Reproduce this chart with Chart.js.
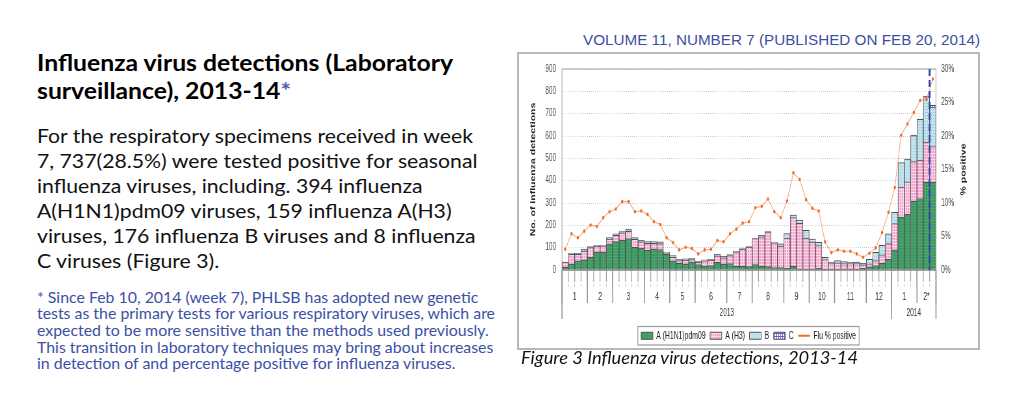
<!DOCTYPE html>
<html>
<head>
<meta charset="utf-8">
<title>Influenza virus detections, 2013-14</title>
<script src="https://cdn.jsdelivr.net/npm/chart.js@4.4.1/dist/chart.umd.min.js"></script>
<style>
  html, body { margin: 0; padding: 0; background: #fff; }
  body { position: relative; width: 1027px; height: 406px; overflow: hidden; font-family: Lato, "Open Sans", sans-serif; }
  .txt { position: absolute; white-space: nowrap; transform-origin: 0 0; }
  #heading { left: 37px; top: 49px; font-size: 23px; line-height: 27.6px; font-weight: bold; color: #000; }
  #heading .star { color: #4a5cb4; }
  #summary { left: 37px; top: 123px; font-size: 19.5px; line-height: 25px; color: #111; }
  #note { left: 37px; top: 288.5px; font-size: 15px; line-height: 16.67px; color: #3c50a5; }
  #volume { left: 583px; top: 32px; font-family: "Liberation Sans", Arial, sans-serif; font-size: 14px; line-height: 16px; color: #3d4f9f; }
  #caption { left: 521px; top: 346px; font-size: 18px; line-height: 22px; font-style: italic; color: #111; }
  #frame { position: absolute; left: 517px; top: 52px; width: 459px; height: 294px; border: 2px solid #b8b8b8; }
  #chartBox { position: absolute; left: 0; top: 0; height: 294px; transform-origin: 0 0; }
</style>
</head>
<body>
<div id="heading" class="txt fit" data-w="416" data-line="0"><span>Influenza virus detections (Laboratory</span><br><span>surveillance), 2013-14<span class="star">*</span></span></div>
<div id="summary" class="txt fit" data-w="436" data-line="0"><span>For the respiratory specimens received in week</span><br><span>7, 737(28.5%) were tested positive for seasonal</span><br><span>influenza viruses, including. 394 influenza</span><br><span>A(H1N1)pdm09 viruses, 159 influenza A(H3)</span><br><span>viruses, 176 influenza B viruses and 8 influenza</span><br><span>C viruses (Figure 3).</span></div>
<div id="note" class="txt fit" data-w="458" data-line="1"><span>* Since Feb 10, 2014 (week 7), PHLSB has adopted new genetic</span><br><span>tests as the primary tests for various respiratory viruses, which are</span><br><span>expected to be more sensitive than the methods used previously.</span><br><span>This transition in laboratory techniques may bring about increases</span><br><span>in detection of and percentage positive for influenza viruses.</span></div>
<div id="volume" class="txt fit" data-w="397" data-line="0"><span>VOLUME 11, NUMBER 7 (PUBLISHED ON FEB 20, 2014)</span></div>
<div id="frame"><div id="chartBox"><canvas id="fluChart"></canvas></div></div>
<div id="caption" class="txt fit" data-w="337" data-line="0"><span>Figure 3 Influenza virus detections, 2013-14</span></div>

<script>
// axis categories
const yearLabels = ['2013', '2014'];
const monthsPerYear = [12, 2];
const monthLabels = ['1', '2', '3', '4', '5', '6', '7', '8', '9', '10', '11', '12', '1', '2*'];
const weeksPerMonth = [4, 4, 5, 4, 4, 5, 4, 5, 4, 4, 5, 4, 4, 3];

// weekly detections
const h1n1 = [12, 26, 40, 45, 57, 80, 80, 117, 127, 133,
              141, 101, 98, 88, 94, 91, 70, 41, 30, 26,
              37, 24, 19, 20, 34, 26, 29, 18, 16, 15,
              24, 16, 15, 11, 11, 8, 16, 4, 2, 1,
              7, 1, 1, 2, 3, 4, 3, 7, 14, 20,
              30, 48, 90, 237, 250, 307, 320, 392, 394];
const h3 = [24, 44, 30, 40, 43, 27, 28, 21, 28, 33,
            32, 36, 28, 31, 25, 27, 7, 16, 12, 18,
            10, 11, 22, 24, 30, 29, 36, 63, 78, 88,
            117, 133, 156, 111, 96, 135, 219, 205, 141, 124,
            102, 46, 28, 30, 26, 25, 26, 16, 14, 22,
            38, 70, 118, 134, 145, 178, 172, 181, 159];
const fluB = [0, 6, 5, 8, 5, 3, 2, 7, 7, 6,
              8, 8, 7, 8, 8, 8, 2, 8, 6, 6,
              5, 4, 4, 4, 6, 6, 4, 3, 2, 2,
              2, 6, 3, 3, 10, 20, 11, 15, 35, 14,
              15, 10, 6, 10, 9, 6, 5, 7, 20, 37,
              42, 44, 50, 110, 102, 117, 183, 203, 176];
const fluC = [0, 0, 0, 0, 0, 0, 0, 0, 0, 0,
              1, 0, 0, 0, 0, 0, 1, 0, 0, 0,
              0, 0, 0, 0, 0, 0, 0, 0, 0, 0,
              0, 0, 0, 0, 0, 0, 0, 0, 0, 0,
              0, 0, 0, 0, 0, 0, 0, 0, 0, 0,
              0, 0, 0, 0, 0, 2, 1, 2, 8];
// percentage positive
const fluPct = [3.1, 5.4, 4.8, 5.8, 6.7, 6.5, 7.8, 8.7, 9.1, 10.2,
                10.2, 8.7, 8.8, 8.3, 7.2, 6.8, 4.8, 4.1, 3.0, 3.4,
                3.2, 2.4, 3.0, 3.1, 4.4, 4.2, 5.4, 6.1, 7.0, 7.2,
                9.3, 9.5, 10.6, 8.7, 7.8, 10.3, 14.5, 13.5, 10.5, 9.2,
                8.8, 4.2, 2.6, 3.0, 2.8, 2.8, 2.4, 1.9, 2.5, 3.3,
                5.6, 8.6, 12.3, 20.1, 21.8, 23.5, 25.3, 25.5, 28.5];

const countTicks = [0, 100, 200, 300, 400, 500, 600, 700, 800, 900];
const pctTicks = [0, 5, 10, 15, 20, 25, 30];
const newTestsWeek = '2014-W7';

// the original graphic is squeezed sideways, so draw wide and compress
const SQUEEZE = 0.65;
const CW = 459 / SQUEEZE;
const PLOT_LEFT = 43 / SQUEEZE;
const RIGHT_W = 42 / SQUEEZE;
const PLOT_BOTTOM = 216;
const PAD_BOTTOM = -3;
const AXIS_FONT = '"Liberation Sans", Arial, sans-serif';

// fit the text blocks to the widths of the original lines
document.querySelectorAll('.fit').forEach(function(el) {
	var spans = el.querySelectorAll(':scope > span');
	var ref = spans[+el.dataset.line || 0];
	var w = ref.getBoundingClientRect().width;
	el.style.transform = 'scaleX(' + (+el.dataset.w / w) + ')';
});

// week categories and the month each week falls in
const weekLabels = [];
const monthStart = [];
const yearStart = [];
let mi = 0;
monthsPerYear.forEach(function(nMonths, y) {
	yearStart.push(weekLabels.length);
	let wk = 1;
	for (let k = 0; k < nMonths; k++, mi++) {
		monthStart.push(weekLabels.length);
		for (let j = 0; j < weeksPerMonth[mi]; j++) {
			weekLabels.push(yearLabels[y] + '-W' + (wk++));
		}
	}
});
monthStart.push(weekLabels.length);
yearStart.push(weekLabels.length);

function makePattern(base, marks, markColor) {
	var c = document.createElement('canvas');
	c.width = 3; c.height = 3;
	var g = c.getContext('2d');
	g.fillStyle = base;
	g.fillRect(0, 0, 3, 3);
	g.fillStyle = markColor;
	marks.forEach(function(r) { g.fillRect(r[0], r[1], r[2], r[3]); });
	return g.createPattern(c, 'repeat');
}

var patGreen = makePattern('#3f9b64', [[1, 1, 1, 1]], '#66b687');
var patPink = makePattern('#f49ccb', [[0, 0, 3, 1], [0, 0, 1, 3]], '#fcd6e9');
var patBlue = makePattern('#c3e4ef', [[1, 1, 1, 1]], '#8ec2d6');
var patC = makePattern('#ffffff', [[0, 0, 3, 1], [0, 0, 1, 3]], '#6060c8');

var box = document.getElementById('chartBox');
box.style.width = CW + 'px';
box.style.transform = 'scaleX(' + SQUEEZE + ')';

// edge of week i (left side), i may equal the number of weeks
function weekEdge(xs, i) {
	var step = xs.getPixelForValue(1) - xs.getPixelForValue(0);
	if (i < weekLabels.length) return xs.getPixelForValue(i) - step / 2;
	return xs.getPixelForValue(weekLabels.length - 1) + step / 2;
}

var plotFrame = {
	id: 'plotFrame',
	beforeDatasetsDraw: function(chart) {
		var ctx = chart.ctx, a = chart.chartArea;
		ctx.save();
		ctx.strokeStyle = '#b0b0b0';
		ctx.lineWidth = 1.2;
		ctx.strokeRect(a.left, a.top, a.right - a.left, a.bottom - a.top);
		ctx.restore();
	},
	afterDatasetsDraw: function(chart) {
		var ctx = chart.ctx, a = chart.chartArea, xs = chart.scales.x;
		ctx.save();
		ctx.strokeStyle = '#7a7a7a';
		ctx.lineWidth = 1;
		ctx.beginPath();
		ctx.moveTo(a.left, a.bottom);
		ctx.lineTo(a.right, a.bottom);
		ctx.stroke();
		// method change marker
		var px = weekEdge(xs, weekLabels.indexOf(newTestsWeek));
		ctx.strokeStyle = '#3346b4';
		ctx.lineWidth = 3;
		ctx.setLineDash([7, 4]);
		ctx.beginPath();
		ctx.moveTo(px, a.top);
		ctx.lineTo(px, a.bottom);
		ctx.stroke();
		ctx.restore();
	}
};

var axisDecor = {
	id: 'axisDecor',
	afterDraw: function(chart) {
		var ctx = chart.ctx, a = chart.chartArea, xs = chart.scales.x, y2 = chart.scales.y2;
		var b = a.bottom;
		ctx.save();
		// week ticks
		for (var i = 1; i < weekLabels.length; i++) {
			var px = weekEdge(xs, i);
			ctx.strokeStyle = '#a0a0a0';
			ctx.lineWidth = 1.2;
			ctx.beginPath(); ctx.moveTo(px, b); ctx.lineTo(px, b + 12); ctx.stroke();
			ctx.strokeStyle = '#cfcfcf';
			ctx.beginPath(); ctx.moveTo(px, b + 14); ctx.lineTo(px, b + 17); ctx.stroke();
		}
		// month separators and labels
		ctx.strokeStyle = '#8c8c8c';
		ctx.lineWidth = 1.5;
		monthStart.forEach(function(w) {
			var px = weekEdge(xs, w);
			ctx.beginPath(); ctx.moveTo(px, b); ctx.lineTo(px, b + 33); ctx.stroke();
		});
		ctx.fillStyle = '#333';
		ctx.font = '10.5px ' + AXIS_FONT;
		ctx.textAlign = 'center';
		ctx.textBaseline = 'middle';
		monthLabels.forEach(function(lbl, m) {
			var cx = (weekEdge(xs, monthStart[m]) + weekEdge(xs, monthStart[m + 1])) / 2;
			ctx.fillText(lbl, cx, b + 27);
		});
		// year separators and labels
		yearStart.forEach(function(w) {
			var px = weekEdge(xs, w);
			ctx.beginPath(); ctx.moveTo(px, b); ctx.lineTo(px, b + 49); ctx.stroke();
		});
		ctx.font = '10px ' + AXIS_FONT;
		yearLabels.forEach(function(lbl, y) {
			var cx = (weekEdge(xs, yearStart[y]) + weekEdge(xs, yearStart[y + 1])) / 2;
			ctx.fillText(lbl, cx, b + 43);
		});
		// right axis title, reading upwards like the left one
		ctx.translate(y2.right - 22, (a.top + a.bottom) / 2);
		ctx.rotate(-Math.PI / 2);
		ctx.font = 'bold 10.5px ' + AXIS_FONT;
		ctx.fillStyle = '#222';
		ctx.fillText('% positive', 0, 0);
		ctx.restore();

		// border round the legend
		var hb = chart.legend && chart.legend.legendHitBoxes;
		if (hb && hb.length) {
			var l = Infinity, t = Infinity, r = -Infinity, bt = -Infinity;
			hb.forEach(function(h) {
				l = Math.min(l, h.left); t = Math.min(t, h.top);
				r = Math.max(r, h.left + h.width); bt = Math.max(bt, h.top + h.height);
			});
			ctx.save();
			ctx.strokeStyle = '#9a9a9a';
			ctx.lineWidth = 1.2;
			ctx.strokeRect(l - 5, t - 4, r - l + 10, bt - t + 8);
			ctx.restore();
		}
	}
};

Chart.defaults.font.family = AXIS_FONT;

var ctx = document.getElementById('fluChart').getContext('2d');
var chart = new Chart(ctx, {
	type: 'bar',
	data: {
		labels: weekLabels,
		datasets: [
			{ label: 'A (H1N1)pdm09', data: h1n1, backgroundColor: patGreen, borderColor: '#505050', borderWidth: 1, yAxisID: 'y', order: 2 },
			{ label: 'A (H3)', data: h3, backgroundColor: patPink, borderColor: '#505050', borderWidth: 1, yAxisID: 'y', order: 2 },
			{ label: 'B', data: fluB, backgroundColor: patBlue, borderColor: '#505050', borderWidth: 1, yAxisID: 'y', order: 2 },
			{ label: 'C', data: fluC, backgroundColor: patC, borderColor: '#505050', borderWidth: 1, yAxisID: 'y', order: 2 },
			{ type: 'line', label: 'Flu % positive', data: fluPct, yAxisID: 'y2', order: 1,
			  borderColor: '#f8a67c', backgroundColor: '#f8a67c', borderWidth: 1.1,
			  pointRadius: 1.8, pointBackgroundColor: '#ee6a2c', pointBorderColor: '#ee6a2c', pointBorderWidth: 0, tension: 0 }
		]
	},
	options: {
		responsive: true,
		maintainAspectRatio: false,
		animation: false,
		barPercentage: 1,
		categoryPercentage: 1,
		layout: { padding: { top: 10, bottom: PAD_BOTTOM, left: 0, right: 0 } },
		plugins: {
			tooltip: { enabled: false },
			legend: {
				position: 'bottom',
				labels: {
					usePointStyle: true,
					pointStyleWidth: 18,
					boxHeight: 7,
					padding: 7,
					color: '#222',
					font: { size: 10.5 },
					sort: function(a, b) { return a.datasetIndex - b.datasetIndex; },
					generateLabels: function(chart) {
						var items = Chart.defaults.plugins.legend.labels.generateLabels(chart);
						items.forEach(function(it) {
							var ds = chart.data.datasets[it.datasetIndex];
							if (ds.type === 'line') {
								it.pointStyle = 'line';
								it.lineWidth = 2;
							} else {
								it.pointStyle = 'rect';
							}
						});
						return items;
					}
				}
			}
		},
		scales: {
			x: {
				stacked: true,
				offset: true,
				grid: { display: false, drawTicks: false },
				border: { display: false },
				ticks: { display: false },
				afterFit: function(s) {
					var lh = s.chart.legend ? s.chart.legend.height : 0;
					s.height = s.chart.height - PLOT_BOTTOM - lh - PAD_BOTTOM;
				}
			},
			y: {
				position: 'left',
				stacked: true,
				min: countTicks[0],
				max: countTicks[countTicks.length - 1],
				afterBuildTicks: function(s) { s.ticks = countTicks.map(function(v) { return { value: v }; }); },
				ticks: { color: '#444', font: { size: 10 }, padding: 9 },
				grid: { color: '#c2c2c2', lineWidth: 1, drawTicks: false },
				border: { display: false, dash: [1, 2] },
				title: { display: true, text: 'No. of influenza detections', color: '#222',
				         font: { size: 10.5, weight: 'bold' }, padding: { top: 16, bottom: 0 } },
				afterFit: function(s) { s.width = PLOT_LEFT; }
			},
			y2: {
				position: 'right',
				min: pctTicks[0],
				max: pctTicks[pctTicks.length - 1],
				afterBuildTicks: function(s) { s.ticks = pctTicks.map(function(v) { return { value: v }; }); },
				ticks: { color: '#444', font: { size: 10 }, padding: 8, callback: function(v) { return v + '%'; } },
				grid: { display: false, drawTicks: false },
				border: { display: false },
				afterFit: function(s) { s.width = RIGHT_W; }
			}
		}
	},
	plugins: [plotFrame, axisDecor]
});
</script>
</body>
</html>
